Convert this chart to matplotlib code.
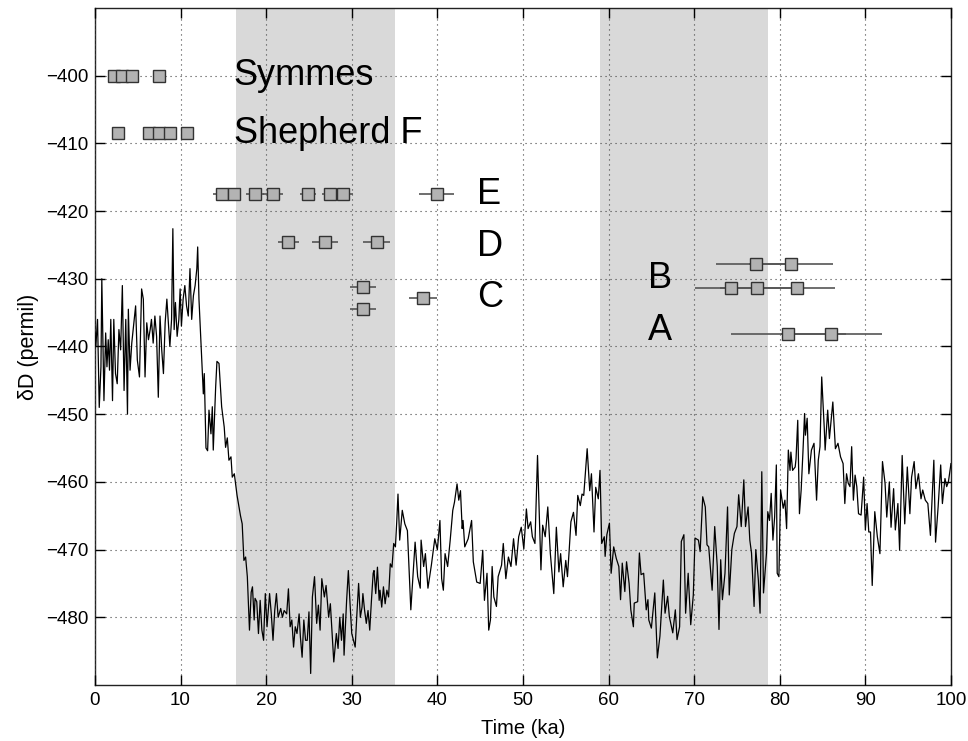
import numpy as np
import matplotlib
matplotlib.use("Agg")
import matplotlib.pyplot as plt

# deuterium record (ka, permil)
age = [0.0, 0.1, 0.3, 0.5, 0.7, 0.8, 0.9, 1.05, 1.25, 1.4, 1.55, 1.7, 1.85, 2.05, 2.2, 2.4, 2.6, 2.8,
       3.0, 3.2, 3.4, 3.6, 3.8, 3.9, 4.1, 4.3, 4.5, 4.75, 4.95, 5.2, 5.45, 5.65, 5.85, 6.05, 6.25, 6.45,
       6.6, 6.8, 7.0, 7.2, 7.4, 7.6, 7.8, 8.0, 8.2, 8.4, 8.55, 8.75, 8.95, 9.1, 9.25, 9.4, 9.6, 9.8,
       9.95, 10.1, 10.3, 10.5, 10.7, 10.9, 11.1, 11.3, 11.5, 11.7, 11.9, 12.0, 12.15, 12.4,
       12.66, 12.77, 12.97, 13.16, 13.32, 13.55, 13.71, 13.82, 14.1, 14.25, 14.49, 14.8, 15.1, 15.26,
       15.46, 15.65, 15.89, 16.04, 16.28, 16.6, 17.0, 17.2, 17.4, 17.6, 17.8, 18.05, 18.25, 18.4,
       18.6, 18.7, 18.9, 19.1, 19.3, 19.5, 19.7, 19.9, 20.1, 20.4, 20.6, 20.8, 21.0, 21.2, 21.4, 21.7,
       21.9, 22.1, 22.4, 22.6, 22.8, 23.0, 23.2, 23.4, 23.6, 23.85, 24.0, 24.2, 24.4, 24.6, 24.8, 25.0,
       25.2, 25.4, 25.65, 25.9, 26.1, 26.3, 26.5, 26.8, 27.0, 27.3, 27.5, 27.7, 27.9, 28.2, 28.4, 28.6,
       28.8, 29.0, 29.1, 29.4, 29.6, 29.8, 30.0, 30.2, 30.4, 30.6, 30.8, 31.0, 31.2, 31.3, 31.5, 31.7,
       31.9, 32.1, 32.3, 32.5, 32.6, 32.8, 33.0, 33.2, 33.3, 33.5, 33.7, 33.9, 34.1, 34.3, 34.5, 34.7,
       34.9, 35.1, 35.25, 35.4, 35.6, 35.9, 36.2, 36.5, 36.9, 37.2, 37.4, 37.7, 38.0, 38.1, 38.4, 38.6,
       38.9, 39.3, 39.7, 40.0, 40.3, 40.5, 40.7, 40.9, 41.2, 41.5, 41.8, 42.0, 42.3, 42.5, 42.7, 42.9,
       43.0, 43.2, 43.6, 44.0, 44.2, 44.6, 45.0, 45.3, 45.5, 45.8, 46.0, 46.2, 46.4, 46.6, 46.9, 47.1,
       47.5, 47.7, 48.0, 48.3, 48.6, 48.9, 49.2, 49.5, 49.8, 50.1, 50.4, 50.6, 50.9, 51.1, 51.4, 51.7,
       52.1, 52.3, 52.6, 52.9, 53.2, 53.6, 53.9, 54.2, 54.4, 54.7, 55.0, 55.2, 55.4, 55.6, 55.9, 56.2,
       56.4, 56.7, 56.9, 57.1, 57.5, 57.8, 58.0, 58.3, 58.5, 58.8, 59.0, 59.2, 59.5, 59.6, 59.8, 60.1,
       60.3, 60.6, 60.9, 61.2, 61.4, 61.6, 61.9, 62.1, 62.4, 62.6, 62.9, 63.0, 63.4, 63.6, 63.8, 64.1,
       64.4, 64.6, 64.7, 65.0, 65.4, 65.7, 66.0, 66.4, 66.6, 66.9, 67.1, 67.5, 67.8, 68.0, 68.3, 68.5,
       68.8, 69.0, 69.3, 69.6, 69.9, 70.1, 70.5, 70.7, 71.0, 71.3, 71.5, 71.7, 72.1, 72.4, 72.7, 72.9,
       73.1, 73.3, 73.6, 73.9, 74.1, 74.4, 74.7, 75.0, 75.2, 75.5, 75.8, 76.0, 76.3, 76.5, 76.7, 77.0,
       77.2, 77.5, 77.7, 77.9, 78.1, 78.3, 78.45, 78.6, 78.8, 79.0, 79.2, 79.4, 79.6, 79.7, 79.9, 80.1,
       80.4, 80.6, 80.8, 81.0, 81.2, 81.3, 81.5, 81.8, 81.9, 82.1, 82.3, 82.5, 82.7, 82.9, 83.0, 83.2,
       83.4, 83.7, 84.0, 84.3, 84.5, 84.7, 84.9, 85.2, 85.3, 85.6, 85.8, 86.2, 86.5, 86.8, 87.1, 87.4,
       87.6, 87.8, 88.0, 88.2, 88.4, 88.6, 88.8, 89.0, 89.2, 89.5, 89.8, 90.0, 90.2, 90.4, 90.6, 90.8,
       91.1, 91.4, 91.7, 92.0, 92.3, 92.5, 92.8, 93.0, 93.3, 93.5, 93.8, 94.0, 94.3, 94.6, 94.9, 95.2,
       95.4, 95.7, 95.9, 96.2, 96.5, 96.7, 97.0, 97.3, 97.6, 97.8, 98.0, 98.2, 98.5, 98.8, 99.0, 99.3,
       99.5, 99.7, 100.0]
dD = [-438, -440, -436, -449, -443, -430, -437, -448, -438, -443, -439, -443.5, -436, -448, -436, -444, -445.5, -437.5,
      -440.5, -431, -446.5, -436, -450, -434.5, -443.5, -439.5, -437, -434, -442, -444.5, -431.5, -433, -444.5, -436.5, -439, -437.5,
      -436, -439.5, -435.5, -438.5, -447.5, -435.5, -440.5, -444, -436.5, -433, -436, -440, -436, -422.6, -437.5, -433.5, -438.5, -436,
      -431.5, -437, -433, -431, -434, -435.5, -428.5, -436, -432.5, -431, -428.5, -425.3, -433, -440,
      -447, -444, -455, -455.4, -449.4, -452.9, -448.9, -455.3, -446, -442.2, -442.5, -448.9, -451.9, -454.9,
      -453.5, -456.8, -456.3, -459.3, -458.8, -462, -465, -466.2, -471.6, -471.1, -474, -481.9, -476.3, -475.5,
      -480.4, -477.2, -477.7, -482.4, -477.5, -481.9, -483.4, -476.5, -481.4, -476.5, -479.5, -483.4, -479, -476.5, -480, -478.7,
      -480, -479, -479.5, -475.8, -481.4, -480.4, -484.4, -481.4, -482.4, -479.5, -482.9, -485.9, -480.4, -483.4, -483.4, -479.2,
      -488.3, -477, -474, -480.9, -478.2, -481.9, -474.3, -477, -475.3, -480, -478, -482.4, -486.6, -482.4, -484.6, -480,
      -483.4, -479.5, -485.6, -477.5, -473.1, -478, -482.4, -483.4, -484.4, -479.5, -475, -480, -478.5, -476.5, -479, -480.9,
      -479, -481.9, -477.5, -473.5, -473.1, -476.5, -472.6, -477.5, -476, -478.5, -475.5, -478, -476, -477, -472.1, -472.6,
      -469.1, -469.6, -466, -461.8, -468.6, -464.2, -466.2, -467.2, -478.9, -472.8, -468.9, -474, -475.7, -468.6, -472.5, -470.6,
      -475.7, -472.3, -468.4, -470, -465.7, -474.3, -476, -470.6, -472.5, -468.6, -464.2, -463, -460.3, -462.7, -461.3, -466.9,
      -465.7, -469.6, -468.4, -465.7, -471.8, -474.8, -475, -470.1, -477.5, -473.5, -481.9, -480.4, -472.5, -477, -478.4, -474,
      -472.3, -469.1, -474.3, -471.1, -472.5, -468.4, -472.3, -468.1, -466.7, -469.9, -464, -466.9, -465.9, -468.1, -469.1, -456.1,
      -473, -466.4, -468.1, -463.7, -470.6, -476.5, -466.7, -473.3, -470.6, -475.5, -471.6, -474, -470.1, -465.9, -464.5, -467.9,
      -462, -463.5, -461.8, -462, -455.1, -461.3, -458.8, -467.4, -460.8, -462.5, -458.3, -469.1, -468.1, -471, -467.8, -466.1,
      -473.5, -469.6, -471.3, -472.5, -477.4, -472, -476.2, -471.8, -475, -478.9, -481.4, -477.9, -477.7, -470.5, -473.7, -473.5,
      -478.9, -477.4, -480.4, -481.6, -476.4, -486, -482.8, -474.5, -479.4, -476.9, -479.9, -482.3, -478.9, -483.3, -481.4, -468.8,
      -467.8, -479.4, -473.5, -481.1, -476.7, -468.3, -468.6, -470.3, -462.2, -463.7, -469.3, -469.6, -476, -466.6, -472.5, -481.8,
      -471.5, -477.4, -473.5, -463.7, -476.7, -470, -467.6, -466.6, -461.9, -466.6, -459.7, -466.6, -463.7, -468.6, -470.5, -478.4,
      -470, -474.5, -479.4, -458.5, -476.4, -473, -470.5, -464.4, -465.7, -461.7, -468.6, -465.2, -457.5, -473.5, -474, -461.2,
      -463.9, -462.7, -466.9, -455.3, -458.3, -455.6, -458.3, -457.8, -456.6, -450.9, -464.7, -461.2, -455.8, -449.9, -453.1, -450.6,
      -458.8, -455.3, -454.3, -462.7, -456.8, -454.8, -444.5, -452.1, -455.3, -449.4, -453.6, -448.2, -455.1, -454.3, -456.3, -457.3,
      -463.2, -458.8, -460.2, -460.7, -454.8, -462.7, -459, -460.7, -464.7, -464.9, -459.3, -467.1, -463.2, -467.4, -467.4, -475.3,
      -464.4, -468.1, -470.6, -457, -460.2, -465.2, -460, -466.7, -461, -467.1, -463.2, -470.1, -456.1, -466.2, -457.8, -464.7,
      -459.3, -457, -461, -458.8, -462.5, -461.2, -462.7, -463.2, -467.9, -462.5, -456.8, -468.9, -463.7, -457.5, -463.2, -459.5,
      -460.7, -460, -457.3]

# shaded intervals (ka)
bands = [(16.5, 35.0), (59.0, 78.6)]

# dated samples: age, age error, plotted level
symmes_age = [2.2, 3.2, 4.3, 7.5]
symmes_y = [-400, -400, -400, -400]
shepF_age = [2.7, 6.3, 7.5, 8.8, 10.8]
shepF_y = [-408.5] * 5
E_age = [14.8, 16.2, 18.7, 20.8, 24.9, 27.5, 29.0, 39.9]
E_err = [1.0, 0.9, 1.0, 1.2, 0.9, 1.0, 1.1, 2.1]
E_y = [-417.5] * 8
D_age = [22.6, 26.9, 32.9]
D_err = [1.2, 1.5, 1.6]
D_y = [-424.5] * 3
C_age = [31.3, 31.3, 38.35]
C_err = [1.5, 1.5, 1.65]
C_y = [-431.2, -434.4, -432.9]
B_age = [77.2, 81.3, 74.3, 77.3, 82.0]
B_err = [4.7, 4.9, 4.2, 4.3, 4.5]
B_y = [-427.8, -427.8, -431.3, -431.3, -431.3]
A_age = [81.0, 86.0]
A_err = [6.7, 5.9]
A_y = [-438.1, -438.1]

labels = ["Symmes", "Shepherd F", "E", "D", "C", "B", "A"]
label_x = [16.2, 16.2, 44.6, 44.6, 44.6, 64.6, 64.6]
label_y = [-400, -408.5, -417.6, -425.3, -432.8, -429.9, -437.7]

plt.rcParams['font.family'] = ['Liberation Sans', 'DejaVu Sans']

fig = plt.figure(figsize=(9.68, 7.41), dpi=100)
ax = fig.add_axes([0.0981, 0.0756, 0.8843, 0.9136])

for a, b in bands:
    ax.axvspan(a, b, color='#d9d9d9', lw=0, zorder=0)

ax.plot(age, dD, color='black', lw=0.9, zorder=3)

sq = dict(fmt='s', ms=8.5, mfc='#b3b3b3', mec='#333333', mew=1.0,
          ecolor='#555555', elinewidth=1.2, capsize=0, zorder=4)
ax.errorbar(symmes_age, symmes_y, **sq)
ax.errorbar(shepF_age, shepF_y, **sq)
ax.errorbar(E_age, E_y, xerr=E_err, **sq)
ax.errorbar(D_age, D_y, xerr=D_err, **sq)
ax.errorbar(C_age, C_y, xerr=C_err, **sq)
ax.errorbar(B_age, B_y, xerr=B_err, **sq)
ax.errorbar(A_age, A_y, xerr=A_err, **sq)

for s, x, y in zip(labels, label_x, label_y):
    ax.text(x, y, s, fontsize=26, ha='left', va='center', zorder=5)

ax.set_xlim(0, 100)
ax.set_ylim(-490, -390)
ax.set_xticks(np.arange(0, 101, 10))
ax.set_yticks(np.arange(-480, -399, 10))
ax.grid(True, linestyle=(0, (1, 3.5)), color='#444444', lw=0.8)
ax.set_axisbelow(False)
ax.tick_params(direction='in', length=7, width=1, top=True, right=True, labelsize=13.5, pad=5)
for sp in ax.spines.values():
    sp.set_linewidth(1.0)
    sp.set_color('#222222')

ax.set_xlabel("Time (ka)", fontsize=14.5, labelpad=7)
ax.set_ylabel("δD (permil)", fontsize=15.5, labelpad=5)

fig.savefig("out.png", dpi=100)
